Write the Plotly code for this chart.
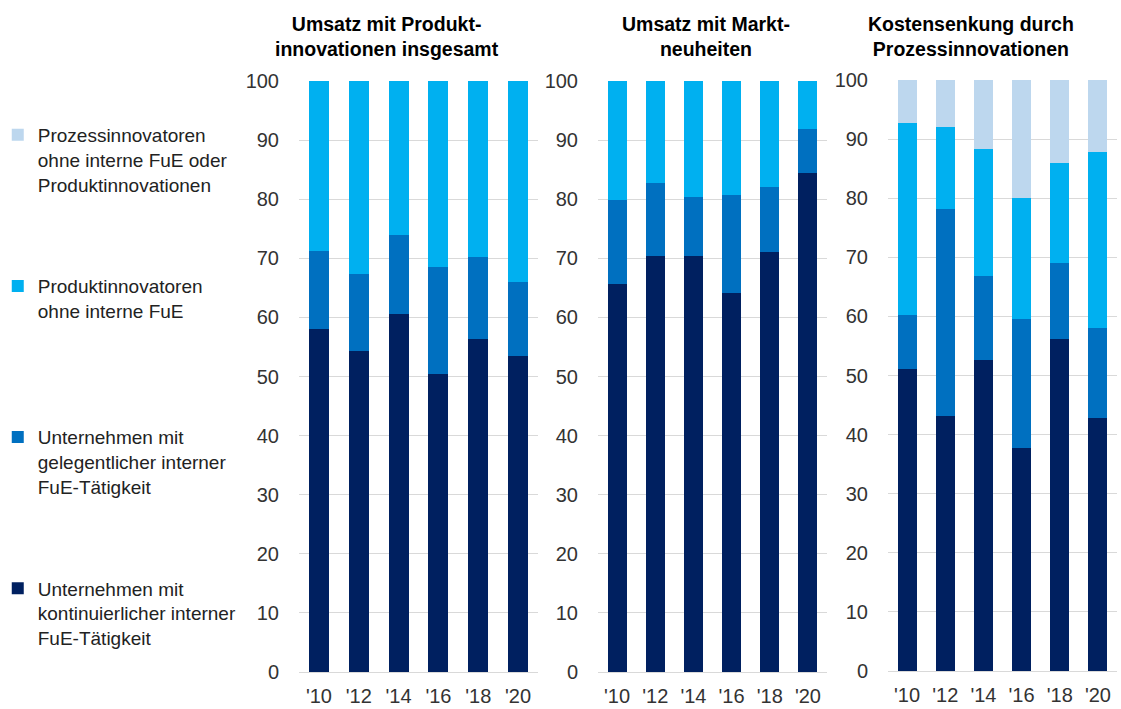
import plotly.graph_objects as go

years = ["'10", "'12", "'14", "'16", "'18", "'20"]

panel_titles = [
    "Umsatz mit Produkt-<br>innovationen insgesamt",
    "Umsatz mit Markt-<br>neuheiten",
    "Kostensenkung durch<br>Prozessinnovationen",
]

series_names = [
    "Unternehmen mit<br>kontinuierlicher interner<br>FuE-Tätigkeit",
    "Unternehmen mit<br>gelegentlicher interner<br>FuE-Tätigkeit",
    "Produktinnovatoren<br>ohne interne FuE<br>&nbsp;",
    "Prozessinnovatoren<br>ohne interne FuE oder<br>Produktinnovationen",
]

# shares (%) per panel, per series
kontinuierlich = [
    [58.1, 54.4, 60.6, 50.5, 56.3, 53.5],
    [65.6, 70.4, 70.4, 64.1, 71.1, 84.5],
    [51.1, 43.1, 52.7, 37.8, 56.1, 42.8],
]
gelegentlich = [
    [13.1, 12.9, 13.3, 18.1, 13.9, 12.5],
    [14.3, 12.3, 10.0, 16.6, 11.0, 7.3],
    [9.1, 35.0, 14.1, 21.8, 12.9, 15.2],
]
produktinnovatoren = [
    [28.8, 32.7, 26.1, 31.4, 29.8, 34.0],
    [20.1, 17.3, 19.6, 19.3, 17.9, 8.2],
    [32.6, 13.9, 21.6, 20.4, 16.9, 29.8],
]
prozessinnovatoren = [
    None,
    None,
    [7.2, 8.0, 11.6, 20.0, 14.1, 12.2],
]

colors = ["#002060", "#0070C0", "#00B0F0", "#BDD7EE"]
series_data = [kontinuierlich, gelegentlich, produktinnovatoren, prozessinnovatoren]

FONT = "Liberation Sans, Arial, sans-serif"

fig = go.Figure()
for s, (name, data, col) in enumerate(zip(series_names, series_data, colors)):
    shown = False
    for p in range(3):
        vals = data[p]
        if vals is None:
            continue
        ax = "" if p == 0 else str(p + 1)
        fig.add_trace(go.Bar(
            x=years, y=vals, name=name,
            marker=dict(color=col, line=dict(width=0)),
            xaxis="x" + ax, yaxis="y" + ax,
            legendgroup="g%d" % s, showlegend=not shown,
            legendrank=1000 - s * 10,
        ))
        shown = True

W, H = 1121, 709
x_domains = [(299, 538), (598, 827), (888, 1117)]
y_domains = [(81, 672), (81, 672), (80, 671)]

layout = dict(
    width=W, height=H,
    margin=dict(l=0, r=0, t=0, b=0, autoexpand=False),
    paper_bgcolor="white", plot_bgcolor="white",
    barmode="stack", bargap=0.5,
    font=dict(family=FONT, size=20, color="#333333"),
    showlegend=True,
    legend=dict(
        x=-0.002, xanchor="left", y=1 - 116 / H, yanchor="top",
        traceorder="grouped", tracegroupgap=74,
        valign="top", font=dict(size=19, color="#222222"),
        bgcolor="rgba(0,0,0,0)", itemclick=False,
    ),
)
for p in range(3):
    ax = "" if p == 0 else str(p + 1)
    x0, x1 = x_domains[p]
    ytop, ybot = y_domains[p]
    layout["xaxis" + ax] = dict(
        domain=[x0 / W, x1 / W], anchor="y" + ax, automargin=False,
        showgrid=False, showline=False, zeroline=False,
        ticks="outside", ticklen=6, tickcolor="rgba(0,0,0,0)",
        tickfont=dict(size=20, color="#333333"),
    )
    layout["yaxis" + ax] = dict(
        domain=[1 - ybot / H, 1 - ytop / H], anchor="x" + ax, automargin=False,
        range=[0, 100], dtick=10, showgrid=True, gridcolor="#D9D9D9",
        gridwidth=1, zeroline=True, zerolinecolor="#D9D9D9", zerolinewidth=1,
        showline=False, ticks="outside", ticklen=15, tickcolor="rgba(0,0,0,0)",
        tickfont=dict(size=20, color="#333333"),
    )
fig.update_layout(**layout)

title_x = [387, 706, 971]
for t, xc in zip(panel_titles, title_x):
    fig.add_annotation(
        text="<b>" + t + "</b>", x=xc / W, y=1 - 36 / H, xref="paper", yref="paper",
        xanchor="center", yanchor="middle", showarrow=False,
        font=dict(family=FONT, size=19.5, color="#000000"),
    )

fig.write_html(
    "out.html",
    config={"displayModeBar": False},
    post_script="document.body.style.margin='0px';document.body.style.overflow='hidden';",
)
